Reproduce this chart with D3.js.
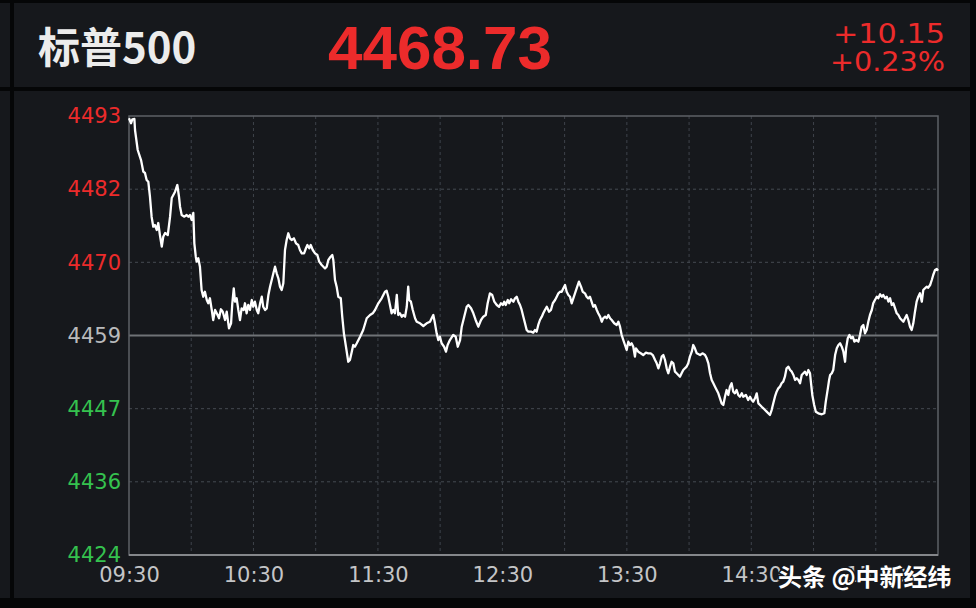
<!DOCTYPE html>
<html>
<head>
<meta charset="utf-8">
<script src="https://d3js.org/d3.v7.min.js"></script>
<style>
  body { margin: 0; background: #16181c; }
  svg { display: block; }
</style>
</head>
<body>
<div class="chart"></div>
<script>
var svgWidth = 976;
var svgHeight = 608;

var margin = { top: 116, right: 38, bottom: 53, left: 129 };
var width = svgWidth - margin.left - margin.right;
var height = svgHeight - margin.top - margin.bottom;

// Quote header
var indexName = "标普500";
var lastPrice = "4468.73";
var change = "+10.15";
var changePct = "+0.23%";
var prevClose = 4458.58;

// y ticks: previous close +/- three steps
var yTickValues = [4424.18, 4435.65, 4447.11, 4458.58, 4470.05, 4481.51, 4492.98];
var xTickMinutes = [0, 60, 120, 180, 240, 300, 360];
var xTickLabels = ["09:30", "10:30", "11:30", "12:30", "13:30", "14:30", "15:30"];

// intraday series: minutes after 09:30 and index level
var minutes = [
  0.0, 1.0, 1.6, 2.6, 2.9, 4.2, 5.8, 6.9, 7.7, 8.5, 9.3, 10.1, 10.9, 11.7, 12.5, 13.4, 14.1, 14.9, 15.8, 16.5,
  17.4, 18.7, 19.8, 20.6, 22.2, 23.3, 24.1, 24.6, 25.4, 26.7, 27.8, 28.6, 29.4, 30.2, 31.0, 31.5, 32.2, 32.6, 33.4, 34.2,
  35.0, 35.8, 36.6, 37.5, 38.2, 39.0, 39.9, 40.6, 41.5, 42.3, 43.4, 44.3, 45.2, 46.3, 47.1, 48.2, 49.2, 49.8, 50.5, 51.1,
  51.9, 52.7, 53.5, 54.3, 55.3, 55.9, 56.7, 57.5, 58.3, 59.2, 59.9, 60.7, 61.6, 62.3, 63.2, 64.0, 64.7, 65.6, 66.4, 67.2,
  68.0, 68.8, 69.6, 70.4, 71.2, 72.0, 72.8, 73.6, 74.4, 75.2, 76.0, 76.8, 77.6, 78.4, 79.5, 80.5, 81.6, 82.4, 83.3, 84.4,
  85.3, 86.0, 86.9, 87.6, 88.6, 89.7, 90.8, 91.7, 92.9, 93.7, 94.5, 95.3, 96.1, 97.2, 98.0, 98.5, 99.3, 100.1, 100.9, 102.1,
  102.8, 103.6, 104.6, 105.7, 106.5, 107.4, 108.1, 108.9, 109.8, 111.4, 112.9, 114.6, 116.2, 117.5, 118.6, 120.2, 121.8, 123.4, 124.2, 125.0,
  125.8, 126.6, 127.4, 128.2, 129.1, 129.8, 130.6, 131.5, 132.2, 133.1, 133.9, 134.6, 135.1, 135.9, 136.8, 137.9, 138.7, 140.3, 141.9, 143.5,
  145.1, 145.9, 146.7, 147.5, 148.3, 149.1, 149.9, 150.7, 151.9, 152.8, 153.6, 154.7, 156.3, 157.5, 158.5, 159.6, 160.4, 161.6, 162.8, 163.6,
  164.9, 166.0, 167.1, 168.4, 169.7, 170.8, 172.0, 172.9, 174.0, 175.1, 176.1, 177.3, 178.4, 179.3, 180.2, 180.9, 181.6, 182.6, 183.3, 184.2,
  185.3, 186.1, 186.9, 187.7, 188.5, 189.3, 190.1, 190.9, 191.7, 192.5, 193.8, 194.9, 195.7, 196.5, 197.3, 198.1, 199.0, 199.7, 200.5, 201.4,
  202.5, 203.4, 204.3, 205.4, 206.2, 207.0, 207.8, 208.6, 209.4, 210.2, 211.0, 211.8, 212.6, 213.4, 214.2, 215.0, 215.8, 216.9, 217.9, 218.7,
  219.8, 220.6, 221.4, 222.2, 223.0, 223.8, 224.6, 225.5, 226.2, 227.1, 227.9, 228.6, 229.5, 230.3, 231.1, 231.9, 232.7, 233.9, 235.1, 235.9,
  236.7, 237.5, 238.3, 239.1, 239.9, 240.7, 241.5, 242.3, 243.1, 243.9, 244.4, 245.5, 246.7, 247.9, 249.2, 250.3, 251.5, 252.5, 253.6, 254.4,
  255.2, 256.0, 256.8, 257.6, 258.4, 259.2, 260.0, 260.8, 261.6, 262.4, 263.2, 264.0, 264.8, 265.6, 266.4, 267.2, 268.0, 268.8, 269.6, 270.4,
  271.3, 272.0, 272.8, 273.7, 275.3, 276.6, 277.7, 278.5, 279.3, 280.1, 280.9, 281.7, 282.5, 283.3, 284.1, 284.9, 285.7, 286.5, 287.3, 288.1,
  288.9, 289.7, 290.5, 291.3, 292.1, 292.9, 293.7, 294.5, 295.4, 296.1, 297.4, 298.5, 299.4, 300.2, 300.9, 301.8, 302.6, 303.4, 304.2, 305.0,
  305.8, 306.6, 307.4, 309.0, 309.8, 310.6, 311.4, 312.2, 313.0, 313.8, 314.6, 315.4, 316.2, 317.0, 317.9, 318.7, 319.5, 320.3, 321.1, 321.9,
  322.7, 323.5, 324.3, 325.1, 325.9, 326.7, 327.5, 328.3, 328.8, 329.4, 330.3, 331.1, 332.3, 334.0, 335.2, 335.9, 336.9, 337.5, 338.0, 338.8,
  339.5, 340.4, 341.2, 342.0, 342.8, 343.6, 344.4, 345.2, 345.7, 346.5, 347.3, 348.1, 348.9, 349.7, 350.5, 351.6, 352.4, 353.2, 354.0, 354.8,
  355.6, 356.4, 357.2, 358.1, 358.8, 359.6, 360.5, 361.2, 362.1, 362.9, 363.6, 364.5, 365.3, 366.1, 366.9, 367.7, 368.5, 369.3, 370.1, 370.9,
  371.7, 372.5, 373.3, 374.1, 374.9, 375.7, 376.5, 377.3, 378.1, 378.9, 379.7, 380.5, 381.3, 382.2, 382.9, 383.7, 384.6, 385.3, 386.2, 387.0,
  387.7, 388.6, 389.4, 390.0
];

var prices = [
  4492.62, 4491.84, 4492.46, 4492.51, 4490.79, 4487.65, 4486.08, 4484.25, 4484.05, 4482.95, 4482.68, 4480.33, 4477.20, 4475.63, 4475.90, 4475.11, 4476.21, 4474.33, 4472.50, 4474.06,
  4474.64, 4474.33, 4477.20, 4480.13, 4481.12, 4482.17, 4480.33, 4478.77, 4477.46, 4477.20, 4477.46, 4477.20, 4477.46, 4476.68, 4477.78, 4473.03, 4470.93, 4470.15, 4470.68, 4469.36,
  4465.71, 4464.66, 4465.44, 4464.14, 4463.63, 4464.41, 4462.58, 4461.01, 4462.58, 4462.06, 4461.28, 4462.69, 4462.31, 4461.01, 4462.31, 4459.71, 4460.49, 4463.63, 4465.98, 4463.88,
  4464.41, 4462.58, 4461.01, 4462.84, 4462.58, 4463.63, 4462.06, 4463.36, 4462.58, 4464.14, 4463.09, 4463.88, 4462.58, 4462.06, 4463.63, 4464.66, 4463.09, 4462.58, 4462.84, 4464.93,
  4466.23, 4467.28, 4468.33, 4469.36, 4468.33, 4467.54, 4466.23, 4465.71, 4466.76, 4471.98, 4473.55, 4474.60, 4473.81, 4473.55, 4473.81, 4473.03, 4472.76, 4471.98, 4471.46, 4471.46,
  4472.25, 4472.76, 4472.25, 4472.76, 4471.98, 4471.46, 4471.20, 4470.15, 4469.63, 4469.36, 4469.11, 4469.36, 4470.41, 4470.93, 4471.20, 4470.41, 4467.28, 4466.23, 4464.66, 4464.41,
  4461.53, 4458.92, 4456.82, 4454.47, 4454.74, 4456.04, 4457.09, 4456.82, 4457.36, 4458.39, 4459.44, 4461.28, 4461.79, 4462.06, 4462.58, 4463.63, 4464.41, 4465.44, 4465.60, 4464.66,
  4463.36, 4462.06, 4462.58, 4462.06, 4464.93, 4461.79, 4462.06, 4461.53, 4461.79, 4461.53, 4463.09, 4466.23, 4464.14, 4463.88, 4462.58, 4461.28, 4460.74, 4460.49, 4460.07, 4460.49,
  4460.74, 4461.28, 4461.79, 4460.49, 4458.92, 4457.87, 4458.39, 4457.36, 4456.82, 4456.04, 4457.09, 4457.87, 4458.66, 4458.39, 4456.82, 4457.87, 4459.96, 4461.53, 4463.09, 4463.36,
  4462.84, 4462.06, 4461.01, 4459.96, 4461.01, 4461.53, 4461.79, 4463.63, 4465.19, 4464.93, 4463.88, 4463.36, 4463.09, 4463.63, 4463.36, 4463.88, 4463.36, 4464.14, 4463.63, 4464.25,
  4463.88, 4464.41, 4464.66, 4463.88, 4463.36, 4462.58, 4461.53, 4460.49, 4459.44, 4459.18, 4459.18, 4459.02, 4459.44, 4459.18, 4460.23, 4461.01, 4461.53, 4462.06, 4462.58, 4463.09,
  4462.31, 4462.58, 4463.63, 4464.14, 4464.66, 4465.19, 4465.44, 4465.44, 4465.98, 4466.49, 4465.44, 4464.93, 4464.66, 4463.63, 4464.41, 4465.19, 4465.98, 4467.01, 4466.23, 4465.44,
  4465.19, 4464.66, 4464.41, 4464.66, 4463.88, 4463.09, 4463.36, 4462.58, 4462.06, 4461.53, 4460.74, 4461.28, 4461.53, 4461.28, 4461.79, 4461.28, 4461.01, 4460.49, 4460.23, 4460.74,
  4459.96, 4458.66, 4457.87, 4457.09, 4456.31, 4457.61, 4457.09, 4457.36, 4456.82, 4455.26, 4456.57, 4456.04, 4455.79, 4455.52, 4455.88, 4455.79, 4455.79, 4455.52, 4454.74, 4454.22,
  4453.44, 4454.22, 4455.26, 4455.52, 4454.74, 4453.44, 4452.66, 4453.69, 4454.47, 4454.22, 4452.91, 4452.66, 4452.39, 4452.12, 4452.66, 4453.17, 4453.44, 4453.69, 4454.22, 4455.26,
  4456.04, 4457.09, 4456.57, 4455.79, 4455.52, 4455.79, 4455.52, 4455.01, 4454.22, 4452.66, 4451.61, 4451.09, 4450.56, 4450.04, 4449.52, 4448.74, 4447.95, 4447.69, 4448.99, 4450.04,
  4449.26, 4450.56, 4451.09, 4449.77, 4449.52, 4450.04, 4449.26, 4448.99, 4449.52, 4448.99, 4449.26, 4448.47, 4448.99, 4448.47, 4448.21, 4448.74, 4449.52, 4447.95, 4447.69, 4447.42,
  4447.17, 4446.90, 4446.64, 4446.12, 4446.90, 4447.95, 4448.99, 4449.77, 4450.30, 4450.56, 4451.09, 4451.34, 4452.12, 4453.44, 4453.69, 4453.17, 4452.91, 4452.39, 4451.61, 4451.87,
  4451.61, 4451.09, 4452.39, 4452.66, 4452.91, 4452.39, 4453.17, 4452.66, 4451.09, 4449.26, 4447.69, 4446.64, 4446.39, 4446.23, 4446.39, 4448.21, 4450.30, 4451.61, 4452.39, 4452.66,
  4453.17, 4455.52, 4456.57, 4457.09, 4457.36, 4456.82, 4456.04, 4454.47, 4456.57, 4458.14, 4458.66, 4458.14, 4458.39, 4457.61, 4457.87, 4457.61, 4458.66, 4459.96, 4460.23, 4458.92,
  4459.44, 4460.74, 4461.79, 4462.58, 4463.63, 4464.14, 4464.66, 4464.41, 4465.04, 4464.66, 4464.93, 4464.41, 4464.66, 4463.88, 4464.41, 4463.36, 4463.63, 4462.84, 4462.06, 4461.79,
  4461.28, 4461.01, 4460.74, 4461.28, 4461.79, 4461.01, 4459.96, 4459.44, 4460.49, 4462.31, 4463.88, 4464.66, 4465.19, 4463.88, 4465.71, 4465.98, 4466.23, 4466.07, 4466.49, 4467.28,
  4468.06, 4468.85, 4469.00, 4468.73
];

var red = "#ec2b2b";
var green = "#35c24f";
var gray = "#b9babc";

var svg = d3
  .select(".chart")
  .append("svg")
  .attr("width", svgWidth)
  .attr("height", svgHeight);

// dark frame lines around the panels
svg.append("rect").attr("x", 0).attr("y", 0).attr("width", svgWidth).attr("height", svgHeight).attr("fill", "#16181c");
svg.append("rect").attr("x", 0).attr("y", 0).attr("width", svgWidth).attr("height", 3).attr("fill", "#050607");
svg.append("rect").attr("x", 10).attr("y", 0).attr("width", 4).attr("height", svgHeight).attr("fill", "#050607");
svg.append("rect").attr("x", 0).attr("y", 87).attr("width", svgWidth).attr("height", 4).attr("fill", "#050607");
svg.append("rect").attr("x", 0).attr("y", 598).attr("width", svgWidth).attr("height", 10).attr("fill", "#050607");
svg.append("rect").attr("x", 970).attr("y", 0).attr("width", 6).attr("height", svgHeight).attr("fill", "#050607");

// header texts
svg.append("text")
  .attr("x", 38).attr("y", 63)
  .style("font", "bold 42px 'Noto Sans CJK SC', sans-serif")
  .attr("fill", "#ececec")
  .text(indexName);

svg.append("text")
  .attr("x", 440).attr("y", 69)
  .attr("text-anchor", "middle")
  .style("font", "bold 62px 'Liberation Sans', sans-serif")
  .attr("fill", red)
  .text(lastPrice);

svg.append("text")
  .attr("x", 945).attr("y", 43)
  .attr("text-anchor", "end")
  .style("font", "26px 'DejaVu Sans', sans-serif")
  .attr("textLength", 112)
  .attr("lengthAdjust", "spacingAndGlyphs")
  .attr("fill", red)
  .text(change);

svg.append("text")
  .attr("x", 945).attr("y", 71)
  .attr("text-anchor", "end")
  .style("font", "26px 'DejaVu Sans', sans-serif")
  .attr("textLength", 115)
  .attr("lengthAdjust", "spacingAndGlyphs")
  .attr("fill", red)
  .text(changePct);

var chart = svg.append("g")
  .attr("transform", "translate(" + margin.left + "," + margin.top + ")");

var xScale = d3.scaleLinear().domain([0, 390]).range([0, width]);
var yScale = d3.scaleLinear().domain([yTickValues[0], yTickValues[6]]).range([height, 0]);

// vertical dashed grid every half hour
var halfHours = d3.range(30, 390, 30);
chart.append("g")
  .selectAll("line")
  .data(halfHours)
  .enter()
  .append("line")
  .attr("x1", function(d) { return xScale(d); })
  .attr("x2", function(d) { return xScale(d); })
  .attr("y1", 0)
  .attr("y2", height)
  .attr("stroke", "#3e434b")
  .attr("stroke-dasharray", "3,3");

// horizontal dashed grid
chart.append("g")
  .selectAll("line")
  .data(yTickValues.slice(1, 6).filter(function(d) { return d !== prevClose; }))
  .enter()
  .append("line")
  .attr("x1", 0)
  .attr("x2", width)
  .attr("y1", function(d) { return yScale(d); })
  .attr("y2", function(d) { return yScale(d); })
  .attr("stroke", "#454a52")
  .attr("stroke-dasharray", "3,3");

// previous close line
chart.append("line")
  .attr("x1", 0).attr("x2", width)
  .attr("y1", yScale(prevClose)).attr("y2", yScale(prevClose))
  .attr("stroke", "#6f7276")
  .attr("stroke-width", 2);

// plot border
chart.append("rect")
  .attr("x", 0).attr("y", 0)
  .attr("width", width).attr("height", height)
  .attr("fill", "none")
  .attr("stroke", "#5d6066")
  .attr("stroke-width", 1.5);

chart.append("line")
  .attr("x1", 0).attr("x2", width)
  .attr("y1", height).attr("y2", height)
  .attr("stroke", "#85878b")
  .attr("stroke-width", 2);

// y axis labels, coloured against previous close
var leftAxis = d3.axisLeft(yScale)
  .tickValues(yTickValues)
  .tickFormat(d3.format(".0f"))
  .tickSize(0)
  .tickPadding(8);

var yAxis = chart.append("g").call(leftAxis);
yAxis.select(".domain").remove();
yAxis.selectAll("text")
  .style("font", "21px 'DejaVu Sans', sans-serif")
  .attr("fill", function(d) {
    if (d > prevClose) return red;
    if (d < prevClose) return green;
    return gray;
  });

// x axis labels
var bottomAxis = d3.axisBottom(xScale)
  .tickValues(xTickMinutes)
  .tickFormat(function(d, i) { return xTickLabels[i]; })
  .tickSize(0)
  .tickPadding(12);

var xAxis = chart.append("g")
  .attr("transform", "translate(0," + height + ")")
  .call(bottomAxis);
xAxis.select(".domain").remove();
xAxis.selectAll("text")
  .style("font", "21px 'DejaVu Sans', sans-serif")
  .attr("fill", "#c4c5c7");

// price line
var series = minutes.map(function(m, i) { return { t: m, v: prices[i] }; });

var line = d3.line()
  .x(function(d) { return xScale(d.t); })
  .y(function(d) { return yScale(d.v); });

chart.append("path")
  .datum(series)
  .attr("d", line)
  .attr("fill", "none")
  .attr("stroke", "#ffffff")
  .attr("stroke-width", 2.3)
  .attr("stroke-linejoin", "round");

// watermark (sits over the last time label, as in the source image)
svg.append("text")
  .attr("x", 778).attr("y", 586)
  .style("font", "bold 24px 'Noto Sans CJK SC', sans-serif")
  .attr("fill", "#ffffff")
  .attr("stroke", "#16181c")
  .attr("stroke-width", 3)
  .attr("paint-order", "stroke")
  .text("头条 @中新经纬");
</script>
</body>
</html>
